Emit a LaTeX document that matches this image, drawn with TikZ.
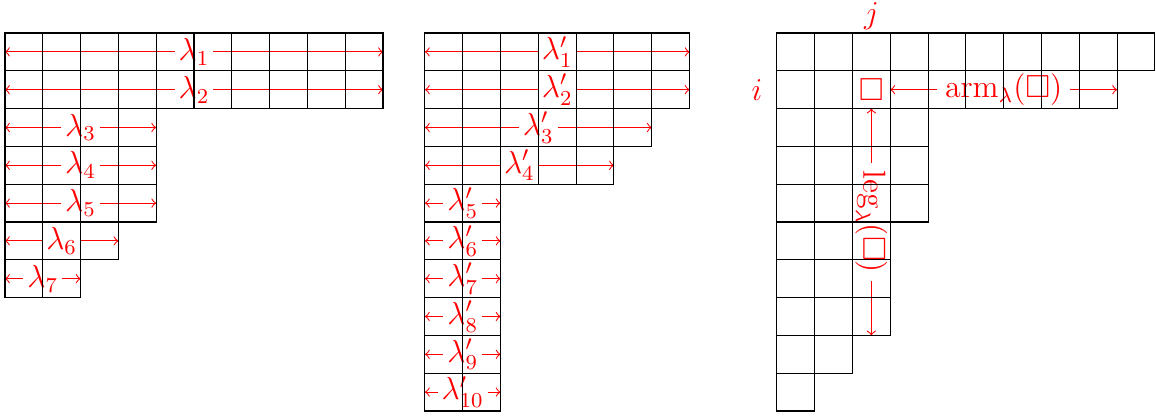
\documentclass[tikz,border=0pt]{standalone}
\usepackage{amssymb}

\tikzset{
  len/.style={red, <->},
  lab/.style={red, fill=white, font=\large, inner sep=1.5pt},
}

\begin{document}
\begin{tikzpicture}[x=0.5cm, y=0.5cm]
  \useasboundingbox (-0.132, 0.873) rectangle (30.45, -10.16);

  % lambda, rows
  \foreach \r/\n in {1/10, 2/10, 3/4, 4/4, 5/4, 6/3, 7/2} {
    \coordinate (la\r) at (0, 0.5-\r);
    \coordinate (lb\r) at (\n, 0.5-\r);
    \draw[len] (la\r) -- node[lab] (lam\r) {$\lambda_{\r}$} (lb\r);
  }
  \foreach \r/\n in {1/10, 2/10, 3/4, 4/4, 5/4, 6/3, 7/2}
    \foreach \c in {1,...,\n}
      \draw (\c-1, 1-\r) rectangle (\c, -\r);

  % conjugate partition
  \begin{scope}[xshift=11.11*0.5cm]
    \foreach \r/\n in {1/7, 2/7, 3/6, 4/5, 5/2, 6/2, 7/2, 8/2, 9/2, 10/2} {
      \coordinate (ca\r) at (0, 0.5-\r);
      \coordinate (cb\r) at (\n, 0.5-\r);
      \draw[len] (ca\r) -- node[lab] (conj\r) {$\lambda'_{\r}$} (cb\r);
    }
    \foreach \r/\n in {1/7, 2/7, 3/6, 4/5, 5/2, 6/2, 7/2, 8/2, 9/2, 10/2}
      \foreach \c in {1,...,\n}
        \draw (\c-1, 1-\r) rectangle (\c, -\r);
  \end{scope}

  % arm and leg
  \begin{scope}[xshift=20.42*0.5cm]
    \node[red, font=\large] (box) at (2.5, -1.5) {$\square$};
    \node[red, font=\large] (jlab) at (2.5, 0.45) {$j$};
    \node[red, font=\large] (ilab) at (-0.53, -1.5) {$i$};
    \coordinate (armA) at (3, -1.5);
    \coordinate (armB) at (9, -1.5);
    \coordinate (legA) at (2.5, -2);
    \coordinate (legB) at (2.5, -8);
    \draw[len] (armA) -- node[lab, inner sep=3pt] (arm) {$\mathrm{arm}_\lambda(\square)$} (armB);
    \draw[len] (legA) -- node[lab, inner sep=3pt, rotate=-90] (leg) {$\mathrm{leg}_\lambda(\square)$} (legB);
    \foreach \r/\n in {1/10, 2/9, 3/4, 4/4, 5/4, 6/3, 7/3, 8/3, 9/2, 10/1}
      \foreach \c in {1,...,\n}
        \draw (\c-1, 1-\r) rectangle (\c, -\r);
  \end{scope}
\end{tikzpicture}
\end{document}
